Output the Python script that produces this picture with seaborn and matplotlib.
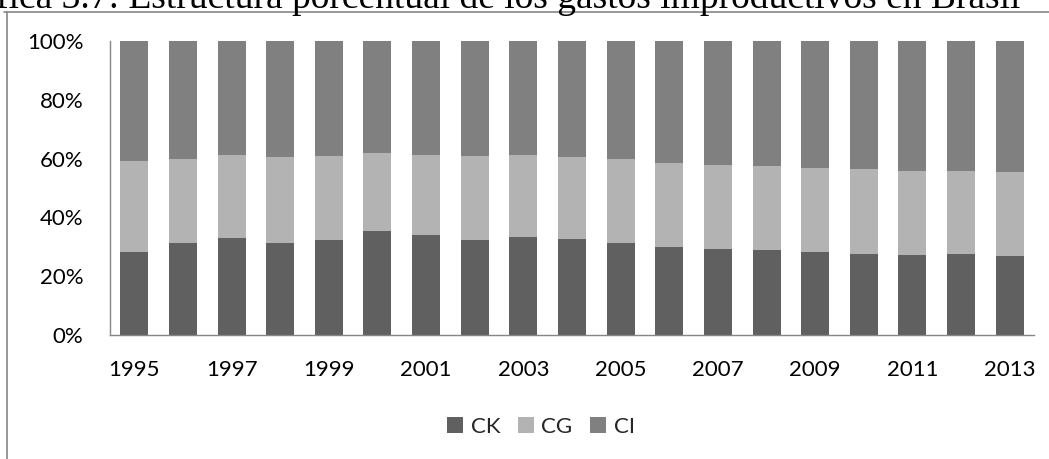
import matplotlib
matplotlib.use("Agg")
import matplotlib.pyplot as plt
import matplotlib.lines as mlines
import matplotlib.patches as mpatches
import numpy as np
import pandas as pd
import seaborn as sns

# Shares of each component (%), 1995-2013
years = [str(y) for y in range(1995, 2014)]
ck = [28.3, 31.2, 33.0, 31.2, 32.4, 35.5, 34.0, 32.3, 33.3, 32.7,
      31.4, 29.9, 29.1, 28.8, 28.2, 27.6, 27.2, 27.6, 26.9]
cg = [30.8, 28.7, 28.3, 29.3, 28.6, 26.5, 27.3, 28.7, 28.0, 27.8,
      28.5, 28.6, 28.7, 28.7, 28.7, 29.0, 28.6, 28.2, 28.4]
ci = [40.9, 40.1, 38.7, 39.5, 39.0, 38.0, 38.7, 39.0, 38.7, 39.5,
      40.1, 41.5, 42.2, 42.5, 43.1, 43.4, 44.2, 44.2, 44.7]
series = ["CK", "CG", "CI"]
colors = {"CK": "#606060", "CG": "#b3b3b3", "CI": "#808080"}
tick_years = years[::2]

df = pd.DataFrame({"year": years, "CK": ck, "CG": cg, "CI": ci})
tot = df[series].sum(axis=1)
for s in series:
    df[s] = df[s] / tot
df["top_CK"] = df["CK"]
df["top_CG"] = df["CK"] + df["CG"]
df["top_CI"] = df["CK"] + df["CG"] + df["CI"]

sns.set_theme(style="white")
plt.rcParams["font.family"] = ["Lato", "DejaVu Sans"]

fig = plt.figure(figsize=(10.49, 4.59), dpi=100)
W, H = 1049, 459
ax = fig.add_axes([110 / W, 1 - 335 / H, 924 / W, 294 / H])

# stacked bars: draw cumulative totals back to front
for s in ["CI", "CG", "CK"]:
    sns.barplot(data=df, x="year", y="top_" + s, color=colors[s],
                width=0.576, saturation=1, ax=ax, linewidth=0, order=years)

ax.set_xlim(-0.5, len(years) - 0.5)
ax.set_ylim(0, 1)
ax.set_yticks(np.arange(0, 1.01, 0.2))
ax.set_yticklabels([f"{int(round(v * 100))}%" for v in np.arange(0, 1.01, 0.2)])
ax.set_xticks([years.index(y) for y in tick_years])
ax.set_xticklabels(tick_years)
ax.set_xlabel("")
ax.set_ylabel("")
ax.tick_params(axis="y", length=0, pad=19, labelsize=16, colors="black")
ax.tick_params(axis="x", length=0, pad=18, labelsize=16, colors="black")
for side in ["top", "right"]:
    ax.spines[side].set_visible(False)
for side in ["left", "bottom"]:
    ax.spines[side].set_color("#868686")
    ax.spines[side].set_linewidth(1.0)

handles = [mpatches.Patch(facecolor=colors[s], edgecolor="none", label=s) for s in series]
fig.legend(handles=handles, loc="center", ncol=3,
           bbox_to_anchor=(541 / W, 1 - 427 / H), frameon=False,
           fontsize=16, handlelength=0.7, handleheight=0.7,
           handletextpad=0.35, columnspacing=0.8)

# outer frame of the chart area
fig.add_artist(mlines.Line2D([4 / W, 1], [1 - 12 / H, 1 - 12 / H],
                             color="#868686", lw=1.2, transform=fig.transFigure))
fig.add_artist(mlines.Line2D([7 / W, 7 / W], [0, 1 - 12 / H],
                             color="#868686", lw=1.2, transform=fig.transFigure))

fig.text(1020 / W, 1 - 8 / H,
         "Gráfica 3.7: Estructura porcentual de los gastos improductivos en Brasil",
         ha="right", va="baseline", fontsize=27,
         family=["Liberation Serif", "DejaVu Serif"], color="black")

fig.savefig("out.png", dpi=100)
